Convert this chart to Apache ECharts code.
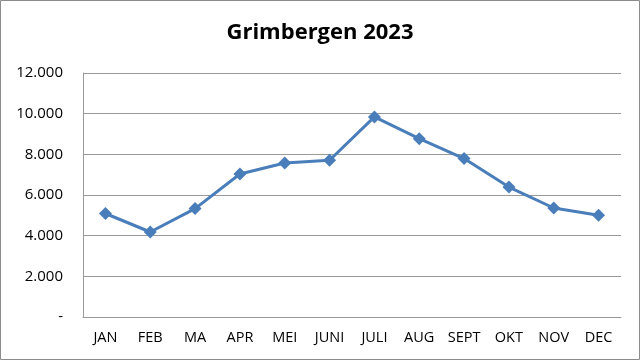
<!DOCTYPE html>
<html>
<head>
<meta charset="utf-8">
<script src="https://cdn.jsdelivr.net/npm/echarts@6/dist/echarts.min.js"></script>
<style>
  html, body { margin: 0; padding: 0; background: #fff; }
  #chart { width: 640px; height: 360px; }
</style>
</head>
<body>
<div id="chart"></div>
<script>
const months = ["JAN", "FEB", "MA", "APR", "MEI", "JUNI", "JULI", "AUG", "SEPT", "OKT", "NOV", "DEC"];
const visitors = [5090, 4180, 5330, 7030, 7570, 7710, 9840, 8770, 7790, 6390, 5360, 5000];
const yTicks = [0, 2000, 4000, 6000, 8000, 10000, 12000];

const FONT = "'Open Sans', 'Noto Sans', sans-serif";

function fmt(v) {
  if (v === 0) return "-";
  return String(v).replace(/\B(?=(\d{3})+(?!\d))/g, ".");
}

const chart = echarts.init(document.getElementById("chart"), null, { renderer: "canvas" });

chart.setOption({
  animation: false,
  backgroundColor: "#fff",
  title: {
    text: "Grimbergen 2023",
    left: "center",
    top: 17,
    textStyle: { fontFamily: FONT, fontWeight: "bold", fontSize: 22, color: "#000" },
  },
  graphic: [{
    type: "rect",
    shape: { x: 0.5, y: 0.5, width: 639, height: 359 },
    style: { fill: "none", stroke: "#8c8c8c", lineWidth: 1 },
    silent: true,
  }],
  grid: { left: 83, right: 19, top: 73, bottom: 43 },
  xAxis: {
    type: "category",
    data: months,
    boundaryGap: true,
    axisLine: { lineStyle: { color: "#9a9a9a", width: 1 } },
    axisTick: { show: false },
    axisLabel: { color: "#000", fontFamily: FONT, fontSize: 14.5, margin: 13 },
  },
  yAxis: {
    type: "value",
    min: yTicks[0],
    max: yTicks[yTicks.length - 1],
    interval: 2000,
    axisLine: { show: true, lineStyle: { color: "#9a9a9a", width: 1 } },
    axisTick: { show: false },
    splitLine: { lineStyle: { color: "#9a9a9a", width: 1 } },
    axisLabel: { color: "#000", fontFamily: FONT, fontSize: 15, margin: 20, formatter: fmt },
  },
  series: [{
    type: "line",
    data: visitors,
    symbol: "diamond",
    symbolSize: 13,
    lineStyle: { color: "#4a7ebb", width: 3 },
    itemStyle: { color: "#4a7ebb" },
  }],
});
</script>
</body>
</html>
